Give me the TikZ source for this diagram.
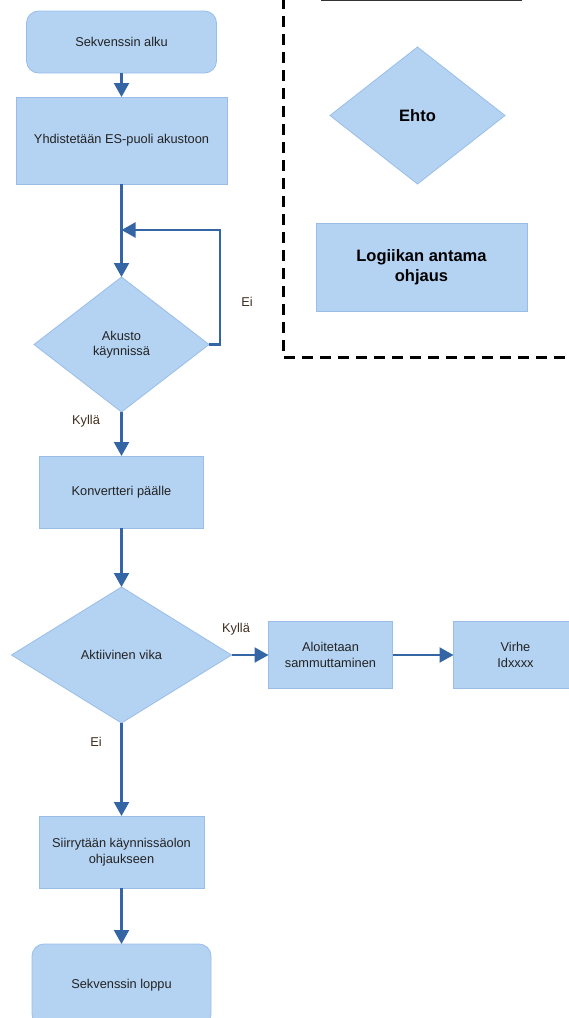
\documentclass[tikz,border=0pt]{standalone}
\usepackage{fontspec}
\setmainfont{Liberation Sans}
\usepackage{xcolor}
\usetikzlibrary{shapes.geometric, arrows.meta, positioning}

\definecolor{boxfill}{HTML}{B4D3F3}
\definecolor{boxline}{HTML}{9ABDE8}
\definecolor{arrblue}{HTML}{3465A4}
\definecolor{lbltext}{HTML}{3F2E1E}
\definecolor{bodytext}{HTML}{222222}

\begin{document}
\begin{tikzpicture}[
    x=1pt, y=1pt,
    node distance=24pt and 37pt,
    block/.style={rectangle, draw=boxline, fill=boxfill, line width=0.8pt, outer sep=0pt, inner sep=2pt, align=center, text=bodytext, font=\fontsize{12.8}{15.5}\selectfont},
    terminal/.style={block, rounded corners=12pt},
    decision/.style={block, diamond, inner sep=0pt},
    legendtext/.style={font=\bfseries\fontsize{16.5}{19.5}\selectfont, text=black},
    arr/.style={-{Triangle[length=14pt, width=15pt]}, line width=2.2pt, draw=arrblue},
    lbl/.style={font=\fontsize{12.8}{15.5}\selectfont, text=lbltext},
    legendframe/.style={dash pattern=on 11pt off 7pt, line width=3pt}
]
\useasboundingbox (0,0) rectangle (569,-1018);
\clip (0,0) rectangle (569,-1018);

% main column
\node[terminal, minimum width=190pt, minimum height=62pt] (alku) at (121.5,-42) {Sekvenssin alku};
\node[block, minimum width=211pt, minimum height=87pt, below=of alku] (yhdistys) {Yhdistetään ES-puoli akustoon};
\node[decision, minimum width=175pt, minimum height=135pt, below=93pt of yhdistys] (akusto) {Akusto\\käynnissä};
\node[block, minimum width=164pt, minimum height=72pt, below=44pt of akusto] (konv) {Konvertteri päälle};
\node[decision, minimum width=220pt, minimum height=136pt, below=59pt of konv] (vika) {Aktiivinen vika};
\node[block, minimum width=124pt, minimum height=67pt, right=of vika] (sammutus) {Aloitetaan\\sammuttaminen};
\node[block, minimum width=124pt, minimum height=67pt, right=61pt of sammutus] (virhe) {Virhe\\Idxxxx};
\node[block, minimum width=165pt, minimum height=72pt, below=93pt of vika] (siirto) {Siirrytään käynnissäolon\\ohjaukseen};
\node[terminal, minimum width=179pt, minimum height=82pt, below=56pt of siirto] (loppu) {Sekvenssin loppu};

\coordinate (paluu) at (121.5,-230);
\draw[arr] (alku) -- (yhdistys);
\draw[arr] (yhdistys) -- (akusto);
\draw[arr] (akusto.east) -- ++(11,0) |- (paluu);
\draw[arr] (akusto) -- (konv);
\draw[arr] (konv) -- (vika);
\draw[arr] (vika) -- (sammutus);
\draw[arr] (sammutus) -- (virhe);
\draw[arr] (vika) -- (siirto);
\draw[arr] (siirto) -- (loppu);

\node[lbl] (ei1) at (247,-302) {Ei};
\node[lbl] (kylla1) at (86,-421) {Kyllä};
\node[lbl] (kylla2) at (236,-629) {Kyllä};
\node[lbl] (ei2) at (96,-742) {Ei};

% legend
\node[decision, legendtext, minimum width=175pt, minimum height=137pt] (ehto) at (417.5,-115.5) {Ehto};
\node[block, legendtext, minimum width=211pt, minimum height=88pt] (ohjaus) at (421.5,-267) {Logiikan antama\\ohjaus};
\draw[legendframe] (283,2) -- (283,-357) -- (572,-357);
\draw[line width=1.6pt, draw=black!80] (321,-0.5) -- (522,-0.5);
\end{tikzpicture}
\end{document}
